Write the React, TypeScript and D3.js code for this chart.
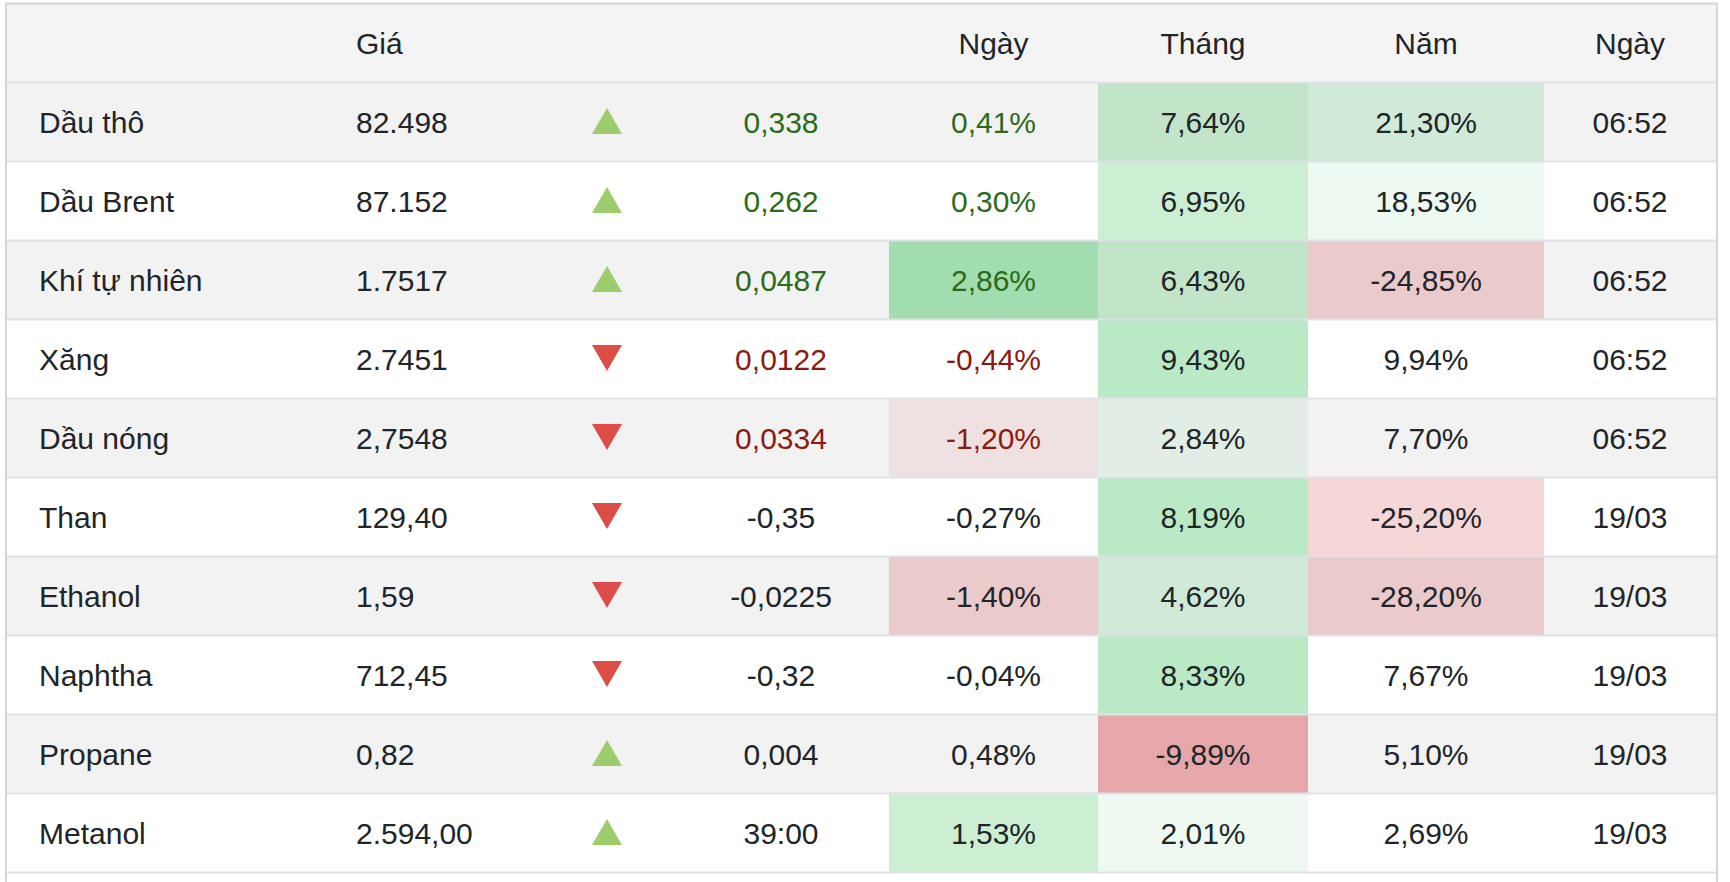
import React from "react";
import * as d3 from "d3";

// ---- data ----
const headers = ["", "Giá", "", "", "Ngày", "Tháng", "Năm", "Ngày"];
const names = ["Dầu thô", "Dầu Brent", "Khí tự nhiên", "Xăng", "Dầu nóng", "Than", "Ethanol", "Naphtha", "Propane", "Metanol"];
const prices = ["82.498", "87.152", "1.7517", "2.7451", "2,7548", "129,40", "1,59", "712,45", "0,82", "2.594,00"];
const directions = ["up", "up", "up", "down", "down", "down", "down", "down", "up", "up"];
const changes = ["0,338", "0,262", "0,0487", "0,0122", "0,0334", "-0,35", "-0,0225", "-0,32", "0,004", "39:00"];
const dayPct = ["0,41%", "0,30%", "2,86%", "-0,44%", "-1,20%", "-0,27%", "-1,40%", "-0,04%", "0,48%", "1,53%"];
const monthPct = ["7,64%", "6,95%", "6,43%", "9,43%", "2,84%", "8,19%", "4,62%", "8,33%", "-9,89%", "2,01%"];
const yearPct = ["21,30%", "18,53%", "-24,85%", "9,94%", "7,70%", "-25,20%", "-28,20%", "7,67%", "5,10%", "2,69%"];
const times = ["06:52", "06:52", "06:52", "06:52", "06:52", "19/03", "19/03", "19/03", "19/03", "19/03"];
// colored (live) quotes
const live = [true, true, true, true, true, false, false, false, false, false];
// heat-map intensity of the shaded cells (positive = green, negative = red)
const dayHeat = [0, 0, 5, 0, -1.2, 0, -2.6, 0, 0, 3];
const monthHeat = [3, 3, 3, 4, 1, 4, 2, 4, -5, 1];
const yearHeat = [2, 1, -2.6, 0, 0, -2.5, -2.6, 0, 0, 0];

const W = 1730;
const H = 882;
const FONT = "'Liberation Sans', Arial, Helvetica, sans-serif";
const FS = 30;
const TEXT = "#212529";
const GREEN_TXT = "#2b6b1a";
const RED_TXT = "#8b1a12";

export default function App() {
  const left = 6;
  const right = 1717;
  const headerTop = 4;
  const bodyTop = 83;
  const rowH = 79;

  const y = d3
    .scaleBand<string>()
    .domain(names)
    .range([bodyTop, bodyTop + rowH * names.length]);

  const alpha = d3.scaleLinear().domain([0, 5]).range([0, 0.4]).clamp(true);
  const heatFill = (v: number) =>
    v >= 0 ? `rgba(40,190,75,${alpha(v)})` : `rgba(210,55,60,${alpha(-v)})`;

  // column geometry
  const cols = {
    name: { x: 39 },
    price: { x: 356 },
    arrow: { x: 607 },
    change: { x: 781 },
    day: { x0: 889, x1: 1098 },
    month: { x0: 1098, x1: 1308 },
    year: { x0: 1308, x1: 1544 },
    time: { x0: 1544, x1: 1716 },
  };
  const mid = (c: { x0: number; x1: number }) => (c.x0 + c.x1) / 2;
  const headerX = [cols.name.x, cols.price.x, cols.arrow.x, cols.change.x, mid(cols.day), mid(cols.month), mid(cols.year), mid(cols.time)];
  const headerAnchor = ["start", "start", "middle", "middle", "middle", "middle", "middle", "middle"];

  const tri = d3.symbol().type(d3.symbolTriangle).size((Math.sqrt(3) / 4) * 30 * 30)();
  const triH = 26;

  const boundaries = d3.range(names.length + 1).map((i) => bodyTop - 0.5 + rowH * i);

  return (
    <svg
      width={W}
      height={H}
      style={{ position: "absolute", left: 0, top: 0, background: "#ffffff" }}
      fontFamily={FONT}
    >
      {/* header */}
      <rect x={left} y={headerTop} width={right - left} height={bodyTop - headerTop} fill="#f4f4f4" />
      {headers.map((h, i) => (
        <text key={"h" + i} x={headerX[i]} y={headerTop + 50} fontSize={FS} fill={TEXT} textAnchor={headerAnchor[i]}>
          {h}
        </text>
      ))}

      {/* rows */}
      {names.map((n, i) => {
        const top = y(n)!;
        const base = top + 49.5;
        const rowBg = i % 2 === 0 ? "#f2f2f2" : "#ffffff";
        const colorTxt = live[i] ? (directions[i] === "up" ? GREEN_TXT : RED_TXT) : TEXT;
        const cy = top + 38;
        const up = directions[i] === "up";
        return (
          <g key={n}>
            <rect x={left} y={top} width={right - left} height={rowH} fill={rowBg} />
            {dayHeat[i] !== 0 && (
              <rect x={cols.day.x0} y={top} width={cols.day.x1 - cols.day.x0} height={rowH} fill={heatFill(dayHeat[i])} />
            )}
            {monthHeat[i] !== 0 && (
              <rect x={cols.month.x0} y={top} width={cols.month.x1 - cols.month.x0} height={rowH} fill={heatFill(monthHeat[i])} />
            )}
            {yearHeat[i] !== 0 && (
              <rect x={cols.year.x0} y={top} width={cols.year.x1 - cols.year.x0} height={rowH} fill={heatFill(yearHeat[i])} />
            )}
            <text x={cols.name.x} y={base} fontSize={FS} fill={TEXT}>{n}</text>
            <text x={cols.price.x} y={base} fontSize={FS} fill={TEXT}>{prices[i]}</text>
            <path
              d={tri!}
              fill={up ? "#9ccc6c" : "#dd4c46"}
              transform={
                up
                  ? `translate(${cols.arrow.x},${cy + triH / 6})`
                  : `translate(${cols.arrow.x},${cy - triH / 6}) rotate(180)`
              }
            />
            <text x={cols.change.x} y={base} fontSize={FS} fill={colorTxt} textAnchor="middle">{changes[i]}</text>
            <text x={mid(cols.day)} y={base} fontSize={FS} fill={colorTxt} textAnchor="middle">{dayPct[i]}</text>
            <text x={mid(cols.month)} y={base} fontSize={FS} fill={TEXT} textAnchor="middle">{monthPct[i]}</text>
            <text x={mid(cols.year)} y={base} fontSize={FS} fill={TEXT} textAnchor="middle">{yearPct[i]}</text>
            <text x={mid(cols.time)} y={base} fontSize={FS} fill={TEXT} textAnchor="middle">{times[i]}</text>
          </g>
        );
      })}

      {/* row separators */}
      {boundaries.map((b, i) => (
        <line key={"b" + i} x1={left} x2={right} y1={b} y2={b} stroke="#dee2e6" strokeWidth={2} />
      ))}

      {/* outer border */}
      <line x1={left - 0.5} x2={right + 1} y1={3.5} y2={3.5} stroke="#d6d6d6" strokeWidth={2} />
      <line x1={left} x2={left} y1={2.5} y2={H} stroke="#d6d6d6" strokeWidth={2} />
      <line x1={right} x2={right} y1={2.5} y2={H} stroke="#d6d6d6" strokeWidth={2} />
    </svg>
  );
}
